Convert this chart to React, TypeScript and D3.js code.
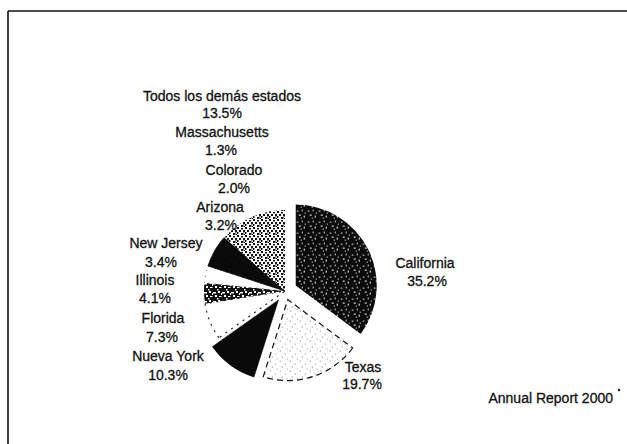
import React from "react";
import * as d3 from "d3";

const states = [
  "California",
  "Texas",
  "Nueva York",
  "Florida",
  "Illinois",
  "New Jersey",
  "Arizona",
  "Colorado",
  "Massachusetts",
  "Todos los demás estados",
];
const shares = [35.2, 19.7, 10.3, 7.3, 4.1, 3.4, 3.2, 2.0, 1.3, 13.5];
const footer = "Annual Report 2000";

const W = 627;
const H = 444;
const cx = 285;
const cy = 291;
const R = 81;

// layout: [name center x, name baseline y, value center x, value baseline y]
const labelPos: Record<string, [number, number, number, number]> = {
  "Todos los demás estados": [222, 101, 222, 118],
  Massachusetts: [222, 137, 221, 155],
  Colorado: [234, 175, 234, 193],
  Arizona: [220, 212, 221, 230],
  "New Jersey": [166, 248, 161, 267],
  Illinois: [155, 285, 155, 303],
  Florida: [163, 323, 162, 342],
  "Nueva York": [168, 361, 168, 380],
  California: [425, 268, 427, 286],
  Texas: [363, 372, 362, 389],
};

const explode: Record<string, number> = {
  California: 12,
  Texas: 9,
  "Nueva York": 11,
};

const sliceStyle: Record<string, { fill: string; stroke?: string; dash?: string; sw?: number }> = {
  California: { fill: "url(#darkStipple)" },
  Texas: { fill: "url(#lightDots)", stroke: "#111", dash: "6,4", sw: 1.2 },
  "Nueva York": { fill: "#0a0a0a", stroke: "#0a0a0a", sw: 0.6 },
  Florida: { fill: "#fff", stroke: "#222", dash: "2,5", sw: 1.2 },
  Illinois: { fill: "url(#midStipple)" },
  "New Jersey": { fill: "#fff", stroke: "#444", dash: "1,5", sw: 1 },
  Arizona: { fill: "#0a0a0a", stroke: "#0a0a0a", sw: 0.8 },
  Colorado: { fill: "#0a0a0a", stroke: "#0a0a0a", sw: 0.8 },
  Massachusetts: { fill: "#0a0a0a", stroke: "#0a0a0a", sw: 0.8 },
  "Todos los demás estados": { fill: "url(#lightStipple)" },
};

const fmt = d3.format(".1f");

export default function App() {
  const pie = d3
    .pie<number>()
    .sort(null)
    .value((d) => d)
    .startAngle(0)
    .endAngle(2 * Math.PI);
  const arcs = pie(shares);
  const arcGen = d3.arc<d3.PieArcDatum<number>>().innerRadius(0).outerRadius(R);

  const font = "'Liberation Sans', Arial, Helvetica, sans-serif";

  return (
    <svg
      width={W}
      height={H}
      viewBox={`0 0 ${W} ${H}`}
      style={{ position: "absolute", left: 0, top: 0, background: "#fff" }}
    >
      <defs>
        <pattern id="darkStipple" width="11" height="11" patternUnits="userSpaceOnUse">
          <rect width="11" height="11" fill="#0b0b0b" />
          <rect x="1" y="2" width="1.5" height="1" fill="#fff" />
          <rect x="6" y="1" width="1" height="1.5" fill="#fff" />
          <rect x="3" y="6" width="2" height="1" fill="#fff" />
          <rect x="8" y="7" width="1" height="2" fill="#fff" />
          <rect x="5" y="9" width="1" height="1" fill="#fff" />
          <rect x="9" y="4" width="1" height="1" fill="#fff" />
        </pattern>
        <pattern id="midStipple" width="9" height="9" patternUnits="userSpaceOnUse">
          <rect width="9" height="9" fill="#111" />
          <rect x="0" y="1" width="3" height="1.5" fill="#fff" />
          <rect x="5" y="0" width="2" height="2" fill="#fff" />
          <rect x="2" y="4" width="2" height="2" fill="#fff" />
          <rect x="6" y="5" width="2.5" height="1" fill="#fff" />
          <rect x="4" y="7" width="1.5" height="1.5" fill="#fff" />
          <rect x="8" y="2" width="1" height="2" fill="#fff" />
        </pattern>
        <pattern id="lightStipple" width="8" height="8" patternUnits="userSpaceOnUse">
          <rect width="8" height="8" fill="#fff" />
          <rect x="0" y="0" width="2" height="2" fill="#111" />
          <rect x="4" y="1" width="2" height="1.5" fill="#111" />
          <rect x="2" y="3" width="2" height="2" fill="#111" />
          <rect x="6" y="3" width="2" height="2.5" fill="#111" />
          <rect x="0" y="5" width="1.5" height="2" fill="#111" />
          <rect x="4" y="6" width="2.5" height="2" fill="#111" />
          <rect x="7" y="7" width="1" height="1" fill="#111" />
        </pattern>
        <pattern id="lightDots" width="10" height="10" patternUnits="userSpaceOnUse">
          <rect width="10" height="10" fill="#fff" />
          <rect x="2" y="1" width="1" height="1" fill="#777" />
          <rect x="7" y="4" width="1" height="1" fill="#888" />
          <rect x="4" y="7" width="1" height="1" fill="#777" />
          <rect x="9" y="9" width="1" height="1" fill="#999" />
        </pattern>
      </defs>

      {/* frame */}
      <line x1={8} y1={11} x2={W} y2={11} stroke="#111" strokeWidth={1.6} />
      <line x1={8} y1={11} x2={8} y2={H} stroke="#111" strokeWidth={1.6} />

      {/* pie */}
      <g>
        {arcs.map((a, i) => {
          const name = states[i];
          const off = explode[name] || 0;
          const mid = (a.startAngle + a.endAngle) / 2;
          const dx = Math.sin(mid) * off;
          const dy = -Math.cos(mid) * off;
          const st = sliceStyle[name];
          return (
            <path
              key={name}
              d={arcGen(a) || ""}
              transform={`translate(${cx + dx},${cy + dy})`}
              fill={st.fill}
              stroke={st.stroke || "none"}
              strokeWidth={st.sw || 0}
              strokeDasharray={st.dash}
            />
          );
        })}
      </g>

      {/* labels */}
      <g
        fontFamily={font}
        fontSize={14}
        fill="#111"
        stroke="#111"
        strokeWidth={0.3}
        textAnchor="middle"
      >
        {states.map((name, i) => {
          const p = labelPos[name];
          return (
            <g key={name}>
              <text x={p[0]} y={p[1]}>{name}</text>
              <text x={p[2]} y={p[3]}>{`${fmt(shares[i])}%`}</text>
            </g>
          );
        })}
        <text x={613} y={403} textAnchor="end">{footer}</text>
      </g>
      <circle cx={619} cy={390} r={1.2} fill="#111" />
    </svg>
  );
}
